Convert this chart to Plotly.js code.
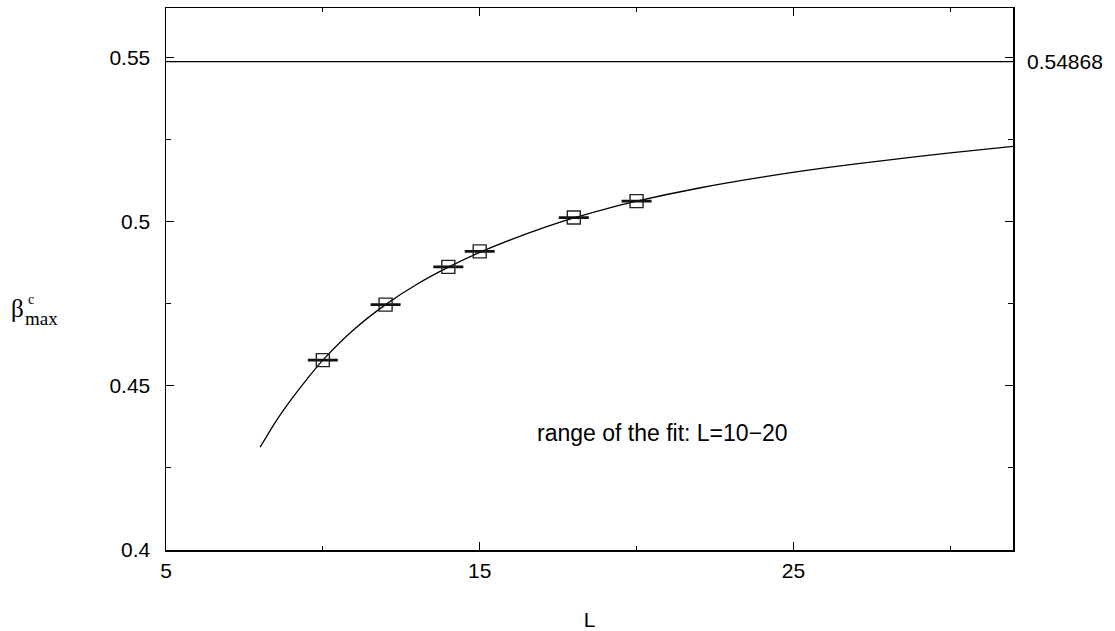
<!DOCTYPE html>
<html>
<head>
<meta charset="utf-8">
<script src="https://cdn.plot.ly/plotly-3.0.1.min.js"></script>
<style>html,body{margin:0;padding:0;background:#fff;}#chart{width:1115px;height:631px;}</style>
</head>
<body>
<div id="chart"></div>
<script>
// Measured data points
const L_data = [10, 12, 14, 15, 18, 20];
const beta_data = [0.4578, 0.4747, 0.4862, 0.4909, 0.5012, 0.5062];
const beta_err = [0.0002, 0.0002, 0.0002, 0.0002, 0.0002, 0.0002];

// Fit curve
const L_fit = [8, 8.5, 9, 9.5, 10, 11, 12, 13, 14, 15, 16, 17, 18, 19, 20, 22, 24, 26, 28, 30, 32];
const beta_fit = [0.4313, 0.4391, 0.4459, 0.4521, 0.4578, 0.4672, 0.4747, 0.4809, 0.4861, 0.4906,
                  0.4945, 0.4980, 0.5011, 0.5038, 0.5062, 0.5102, 0.5135, 0.5163, 0.5187, 0.5209, 0.5229];

// Asymptote
const beta_inf = 0.54868;
const L_range = [5, 32];

const fontSans = "Liberation Sans, Arial, Helvetica, sans-serif";
const fontSerif = "Liberation Serif, Times New Roman, serif";

const traces = [
  {
    x: L_range, y: [beta_inf, beta_inf], mode: 'lines',
    line: {color: '#000', width: 1.2}, hoverinfo: 'skip', showlegend: false
  },
  {
    x: L_fit, y: beta_fit, mode: 'lines', line: {color: '#000', width: 1.3, shape: 'spline', smoothing: 0.8},
    showlegend: false
  },
  {
    x: L_data, y: beta_data, mode: 'markers',
    marker: {symbol: 'square-open', size: 13, color: '#222', line: {width: 1.4, color: '#222'}},
    error_y: {type: 'data', array: beta_err, visible: true, color: '#111', thickness: 1.4, width: 15},
    showlegend: false
  }
];

const layout = {
  width: 1115, height: 631,
  margin: {l: 166, r: 102, t: 8, b: 81},
  paper_bgcolor: '#fff', plot_bgcolor: '#fff',
  showlegend: false,
  font: {family: fontSans, size: 21, color: '#000'},
  xaxis: {
    range: L_range, tick0: 5, dtick: 10, showgrid: false, zeroline: false,
    showline: true, linecolor: '#000', linewidth: 1.5, mirror: 'ticks',
    ticks: 'inside', ticklen: 8, tickwidth: 1, tickcolor: '#000',
    minor: {ticks: 'inside', ticklen: 4, dtick: 5, tickwidth: 1, tickcolor: '#000', showgrid: false},
    tickfont: {family: fontSans, size: 21, color: '#000'},
    ticklabelstandoff: 1,
    title: {text: 'L', font: {family: fontSans, size: 21, color: '#000'}, standoff: 35},
    automargin: false
  },
  yaxis: {
    range: [0.4, 0.565], tick0: 0.4, dtick: 0.05, showgrid: false, zeroline: false,
    showline: true, linecolor: '#000', linewidth: 1.5, mirror: 'ticks',
    ticks: 'inside', ticklen: 8, tickwidth: 1, tickcolor: '#000',
    minor: {ticks: 'inside', ticklen: 5, dtick: 0.025, tickwidth: 1, tickcolor: '#000', showgrid: false},
    tickfont: {family: fontSans, size: 21, color: '#000'},
    ticklabelstandoff: 10,
    automargin: false
  },
  annotations: [
    {xref: 'paper', yref: 'y', x: 1, y: beta_inf, xanchor: 'left', yanchor: 'middle', xshift: 12,
     text: '0.54868', showarrow: false, font: {family: fontSans, size: 21, color: '#000'}},
    {xref: 'x', yref: 'y', x: 20.84, y: 0.4355, xanchor: 'center', yanchor: 'middle',
     text: 'range of the fit: L=10\u221220', showarrow: false, font: {family: fontSans, size: 23, color: '#000'}},
    {xref: 'paper', yref: 'paper', x: -0.1753, y: 0.446, xanchor: 'center', yanchor: 'middle',
     text: '\u03b2', showarrow: false, font: {family: fontSerif, size: 25, color: '#000'}},
    {xref: 'paper', yref: 'paper', x: -0.1655, y: 0.462, xanchor: 'left', yanchor: 'middle',
     text: 'c', showarrow: false, font: {family: fontSerif, size: 14, color: '#000'}},
    {xref: 'paper', yref: 'paper', x: -0.1685, y: 0.428, xanchor: 'left', yanchor: 'middle',
     text: 'max', showarrow: false, font: {family: fontSerif, size: 19, color: '#000'}}
  ]
};

Plotly.newPlot('chart', traces, layout, {displayModeBar: false, staticPlot: true});
</script>
</body>
</html>
